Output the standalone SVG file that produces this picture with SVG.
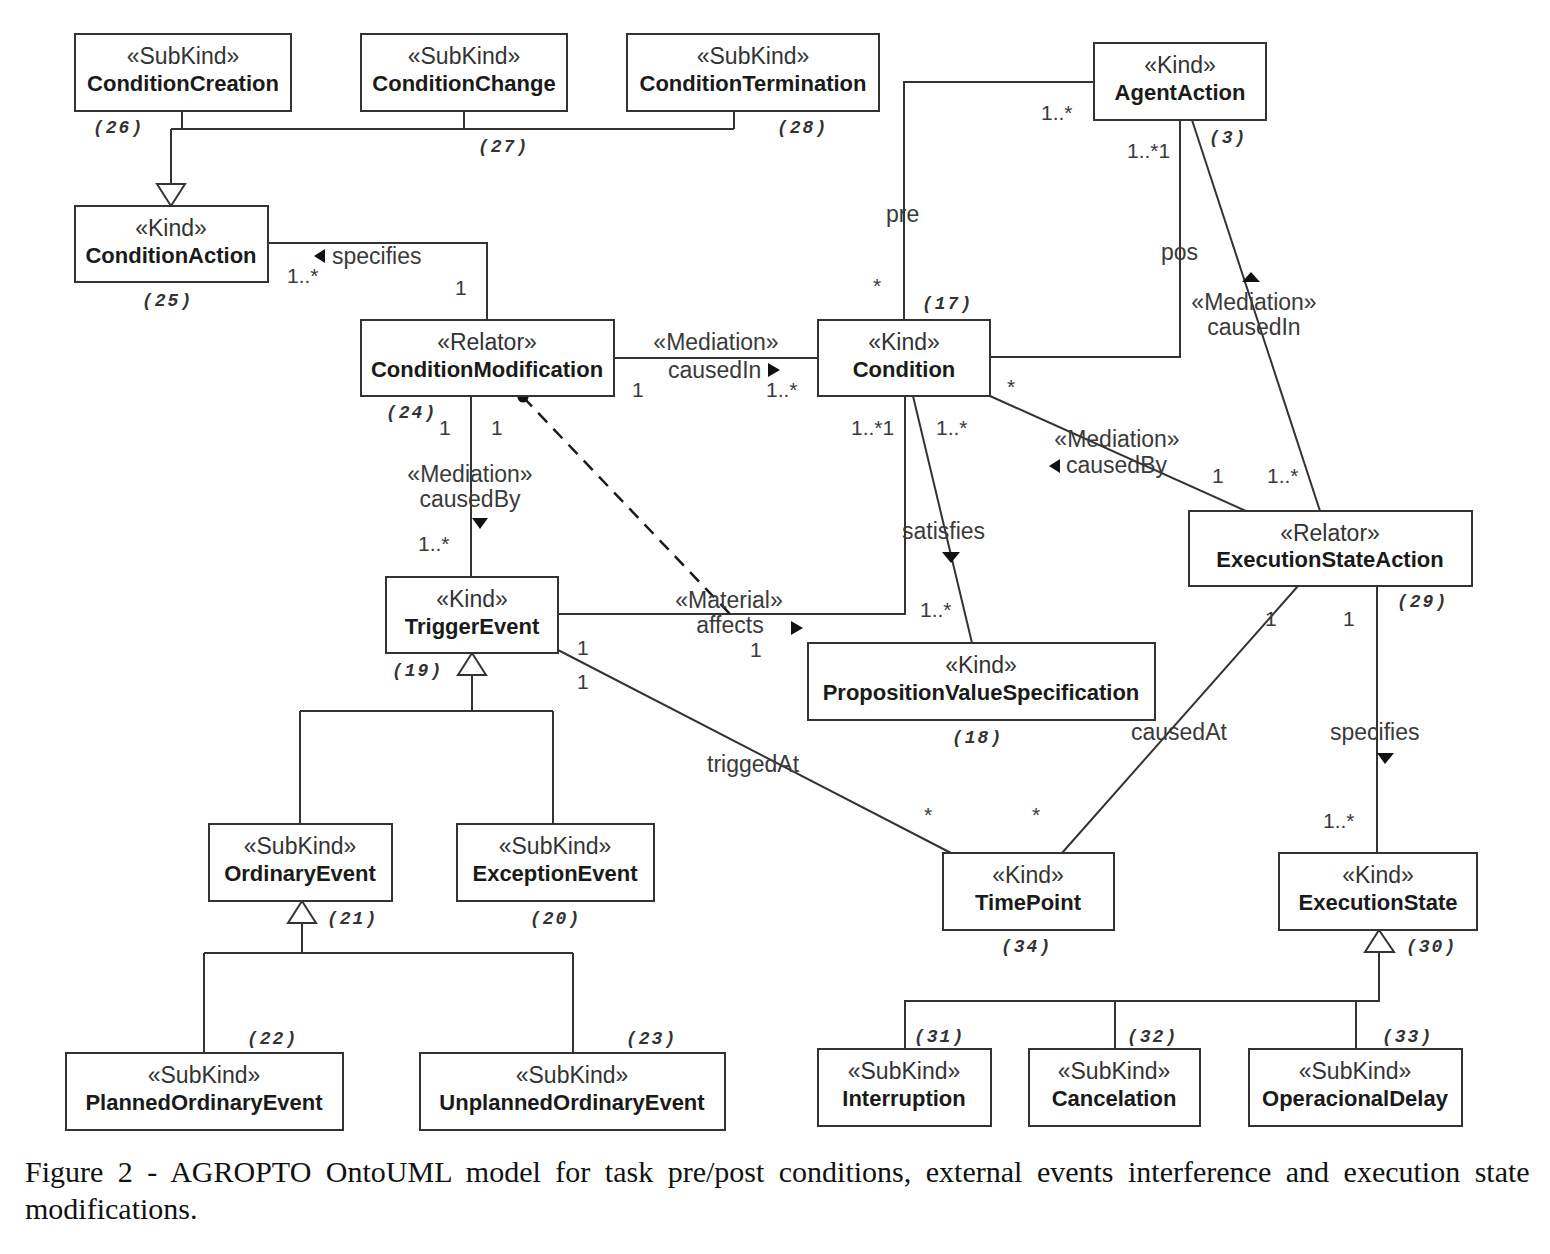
<svg xmlns="http://www.w3.org/2000/svg" width="1550" height="1254" viewBox="0 0 1550 1254">
<style>
  .box{fill:#fff;stroke:#333;stroke-width:2}
  .st{font-family:"Liberation Sans",Arial,sans-serif;font-size:23px;fill:#333;text-anchor:middle}
  .nm{font-family:"Liberation Sans",Arial,sans-serif;font-size:22px;font-weight:bold;fill:#1a1a1a;text-anchor:middle}
  .ln{fill:none;stroke:#333;stroke-width:2}
  .dash{fill:none;stroke:#1a1a1a;stroke-width:2.5;stroke-dasharray:13 9}
  .gen{fill:#fff;stroke:#333;stroke-width:2}
  .arr{fill:#111}
  .lb{font-family:"Liberation Sans",Arial,sans-serif;font-size:23px;fill:#3a3a3a}
  .m{font-family:"Liberation Sans",Arial,sans-serif;font-size:21px;fill:#3a3a3a}
  .c{text-anchor:middle}
  .idx{font-family:"Liberation Mono","DejaVu Sans Mono",monospace;font-size:18px;font-weight:bold;font-style:italic;fill:#333;letter-spacing:2px}
  .cap{font-family:"Liberation Serif","Times New Roman",serif;font-size:30px;fill:#111}
</style>

<!-- connectors -->
<g id="connectors">
  <!-- generalization: ConditionAction subkinds -->
  <path class="ln" d="M182,111 V129 M464,111 V129 M734,111 V129 M171,129 H734 M171,129 V184"/>
  <polygon class="gen" points="157,184 185,184 171,206"/>
  <!-- specifies (ConditionAction - ConditionModification) -->
  <path class="ln" d="M268,243 H487 V320"/>
  <polygon class="arr" points="314,256 325,249 325,263"/>
  <!-- Mediation causedIn (ConditionModification - Condition) -->
  <path class="ln" d="M614,358 H818"/>
  <polygon class="arr" points="768,363 780,370 768,377"/>
  <!-- pre (AgentAction - Condition) -->
  <path class="ln" d="M1094,82 H904 V320"/>
  <!-- pos (AgentAction - Condition) -->
  <path class="ln" d="M1180,120 V357 H990"/>
  <!-- Mediation causedIn (AgentAction - ExecutionStateAction) -->
  <path class="ln" d="M1192,120 L1320,511"/>
  <polygon class="arr" points="1242,282 1260,282 1251,272"/>
  <!-- Mediation causedBy (Condition - ExecutionStateAction) -->
  <path class="ln" d="M990,396 L1246,511"/>
  <polygon class="arr" points="1049,466 1060,459 1060,473"/>
  <!-- satisfies (Condition - PropositionValueSpecification) -->
  <path class="ln" d="M913,396 L972,643"/>
  <polygon class="arr" points="942,552 960,552 951,563"/>
  <!-- Material affects (TriggerEvent - Condition) -->
  <path class="ln" d="M905,396 V614 H558"/>
  <polygon class="arr" points="791,621 803,628 791,635"/>
  <!-- derivation from ConditionModification -->
  <path class="dash" d="M523,397 L730,614"/>
  <circle cx="523" cy="397" r="5.5" fill="#111"/>
  <!-- Mediation causedBy (ConditionModification - TriggerEvent) -->
  <path class="ln" d="M471,396 V577"/>
  <polygon class="arr" points="472,518 488,518 480,529"/>
  <!-- triggedAt (TriggerEvent - TimePoint) -->
  <path class="ln" d="M558,650 L951,853"/>
  <!-- causedAt (ExecutionStateAction - TimePoint) -->
  <path class="ln" d="M1298,586 L1062,853"/>
  <!-- specifies (ExecutionStateAction - ExecutionState) -->
  <path class="ln" d="M1377,586 V853"/>
  <polygon class="arr" points="1377,753 1394,753 1385,764"/>
  <!-- generalization: TriggerEvent subkinds -->
  <path class="ln" d="M472,675 V711 M300,711 H553 M300,711 V824 M553,711 V824"/>
  <polygon class="gen" points="458,675 486,675 472,653"/>
  <!-- generalization: OrdinaryEvent subkinds -->
  <path class="ln" d="M302,923 V953 M204,953 H573 M204,953 V1053 M573,953 V1053"/>
  <polygon class="gen" points="288,923 316,923 302,901"/>
  <!-- generalization: ExecutionState subkinds -->
  <path class="ln" d="M1379,952 V1001 H905 V1049 M1115,1001 V1049 M1356,1001 V1049"/>
  <polygon class="gen" points="1365,952 1394,952 1379,930"/>
</g>

<!-- connector labels -->
<g id="labels">
  <text class="lb" x="332" y="264">specifies</text>
  <text class="m" x="287" y="283">1..*</text>
  <text class="m" x="455" y="295">1</text>

  <text class="lb c" x="716" y="350">«Mediation»</text>
  <text class="lb" x="668" y="378">causedIn</text>
  <text class="m" x="632" y="397">1</text>
  <text class="m" x="766" y="397">1..*</text>

  <text class="lb" x="886" y="222">pre</text>
  <text class="m" x="873" y="293">*</text>
  <text class="m" x="1041" y="120">1..*</text>
  <text class="lb" x="1161" y="260">pos</text>
  <text class="m" x="1127" y="158">1..*1</text>

  <text class="lb c" x="1254" y="310">«Mediation»</text>
  <text class="lb c" x="1254" y="335">causedIn</text>
  <text class="m" x="1267" y="483">1..*</text>

  <text class="lb c" x="1117" y="447">«Mediation»</text>
  <text class="lb" x="1066" y="473">causedBy</text>
  <text class="m" x="1007" y="394">*</text>
  <text class="m" x="1212" y="483">1</text>

  <text class="m" x="851" y="435">1..*1</text>
  <text class="m" x="936" y="435">1..*</text>
  <text class="lb" x="902" y="539">satisfies</text>
  <text class="m" x="920" y="617">1..*</text>

  <text class="lb c" x="729" y="608">«Material»</text>
  <text class="lb c" x="730" y="633">affects</text>
  <text class="m" x="577" y="655">1</text>
  <text class="m" x="750" y="657">1</text>

  <text class="lb c" x="470" y="482">«Mediation»</text>
  <text class="lb c" x="470" y="507">causedBy</text>
  <text class="m" x="439" y="435">1</text>
  <text class="m" x="491" y="435">1</text>
  <text class="m" x="418" y="551">1..*</text>

  <text class="m" x="577" y="689">1</text>
  <text class="lb" x="707" y="772">triggedAt</text>
  <text class="m" x="924" y="822">*</text>

  <text class="lb" x="1131" y="740">causedAt</text>
  <text class="m" x="1265" y="626">1</text>
  <text class="m" x="1032" y="822">*</text>

  <text class="m" x="1343" y="626">1</text>
  <text class="lb" x="1330" y="740">specifies</text>
  <text class="m" x="1323" y="828">1..*</text>

  <!-- element indices -->
  <text class="idx" x="93" y="133">(26)</text>
  <text class="idx" x="478" y="152">(27)</text>
  <text class="idx" x="777" y="133">(28)</text>
  <text class="idx" x="1209" y="143">(3)</text>
  <text class="idx" x="142" y="306">(25)</text>
  <text class="idx" x="922" y="309">(17)</text>
  <text class="idx" x="386" y="418">(24)</text>
  <text class="idx" x="1397" y="607">(29)</text>
  <text class="idx" x="392" y="676">(19)</text>
  <text class="idx" x="952" y="743">(18)</text>
  <text class="idx" x="327" y="924">(21)</text>
  <text class="idx" x="530" y="924">(20)</text>
  <text class="idx" x="1001" y="952">(34)</text>
  <text class="idx" x="1406" y="952">(30)</text>
  <text class="idx" x="247" y="1044">(22)</text>
  <text class="idx" x="626" y="1044">(23)</text>
  <text class="idx" x="914" y="1042">(31)</text>
  <text class="idx" x="1127" y="1042">(32)</text>
  <text class="idx" x="1382" y="1042">(33)</text>
</g>

<!-- classes -->
<g id="ConditionCreation">
  <rect class="box" x="75" y="34" width="216" height="77"/>
  <text class="st" x="183" y="64">«SubKind»</text>
  <text class="nm" x="183" y="91">ConditionCreation</text>
</g>
<g id="ConditionChange">
  <rect class="box" x="361" y="34" width="206" height="77"/>
  <text class="st" x="464" y="64">«SubKind»</text>
  <text class="nm" x="464" y="91">ConditionChange</text>
</g>
<g id="ConditionTermination">
  <rect class="box" x="627" y="34" width="252" height="77"/>
  <text class="st" x="753" y="64">«SubKind»</text>
  <text class="nm" x="753" y="91">ConditionTermination</text>
</g>
<g id="AgentAction">
  <rect class="box" x="1094" y="43" width="172" height="77"/>
  <text class="st" x="1180" y="73">«Kind»</text>
  <text class="nm" x="1180" y="100">AgentAction</text>
</g>
<g id="ConditionAction">
  <rect class="box" x="75" y="206" width="193" height="76"/>
  <text class="st" x="171" y="236">«Kind»</text>
  <text class="nm" x="171" y="263">ConditionAction</text>
</g>
<g id="ConditionModification">
  <rect class="box" x="361" y="320" width="253" height="76"/>
  <text class="st" x="487" y="350">«Relator»</text>
  <text class="nm" x="487" y="377">ConditionModification</text>
</g>
<g id="Condition">
  <rect class="box" x="818" y="320" width="172" height="76"/>
  <text class="st" x="904" y="350">«Kind»</text>
  <text class="nm" x="904" y="377">Condition</text>
</g>
<g id="TriggerEvent">
  <rect class="box" x="386" y="577" width="172" height="76"/>
  <text class="st" x="472" y="607">«Kind»</text>
  <text class="nm" x="472" y="634">TriggerEvent</text>
</g>
<g id="ExecutionStateAction">
  <rect class="box" x="1189" y="511" width="283" height="75"/>
  <text class="st" x="1330" y="541">«Relator»</text>
  <text class="nm" x="1330" y="567">ExecutionStateAction</text>
</g>
<g id="PropositionValueSpecification">
  <rect class="box" x="808" y="643" width="347" height="77"/>
  <text class="st" x="981" y="673">«Kind»</text>
  <text class="nm" x="981" y="700">PropositionValueSpecification</text>
</g>
<g id="OrdinaryEvent">
  <rect class="box" x="209" y="824" width="183" height="77"/>
  <text class="st" x="300" y="854">«SubKind»</text>
  <text class="nm" x="300" y="881">OrdinaryEvent</text>
</g>
<g id="ExceptionEvent">
  <rect class="box" x="457" y="824" width="197" height="77"/>
  <text class="st" x="555" y="854">«SubKind»</text>
  <text class="nm" x="555" y="881">ExceptionEvent</text>
</g>
<g id="TimePoint">
  <rect class="box" x="943" y="853" width="171" height="77"/>
  <text class="st" x="1028" y="883">«Kind»</text>
  <text class="nm" x="1028" y="910">TimePoint</text>
</g>
<g id="ExecutionState">
  <rect class="box" x="1279" y="853" width="198" height="77"/>
  <text class="st" x="1378" y="883">«Kind»</text>
  <text class="nm" x="1378" y="910">ExecutionState</text>
</g>
<g id="PlannedOrdinaryEvent">
  <rect class="box" x="66" y="1053" width="277" height="77"/>
  <text class="st" x="204" y="1083">«SubKind»</text>
  <text class="nm" x="204" y="1110">PlannedOrdinaryEvent</text>
</g>
<g id="UnplannedOrdinaryEvent">
  <rect class="box" x="420" y="1053" width="305" height="77"/>
  <text class="st" x="572" y="1083">«SubKind»</text>
  <text class="nm" x="572" y="1110">UnplannedOrdinaryEvent</text>
</g>
<g id="Interruption">
  <rect class="box" x="818" y="1049" width="173" height="77"/>
  <text class="st" x="904" y="1079">«SubKind»</text>
  <text class="nm" x="904" y="1106">Interruption</text>
</g>
<g id="Cancelation">
  <rect class="box" x="1029" y="1049" width="171" height="77"/>
  <text class="st" x="1114" y="1079">«SubKind»</text>
  <text class="nm" x="1114" y="1106">Cancelation</text>
</g>
<g id="OperacionalDelay">
  <rect class="box" x="1249" y="1049" width="213" height="77"/>
  <text class="st" x="1355" y="1079">«SubKind»</text>
  <text class="nm" x="1355" y="1106">OperacionalDelay</text>
</g>

<!-- caption -->
<g id="caption">
  <text class="cap" x="25" y="1182" word-spacing="7">Figure 2 - AGROPTO OntoUML model for task pre/post conditions, external events interference and execution state</text>
  <text class="cap" x="25" y="1219">modifications.</text>
</g>
</svg>
